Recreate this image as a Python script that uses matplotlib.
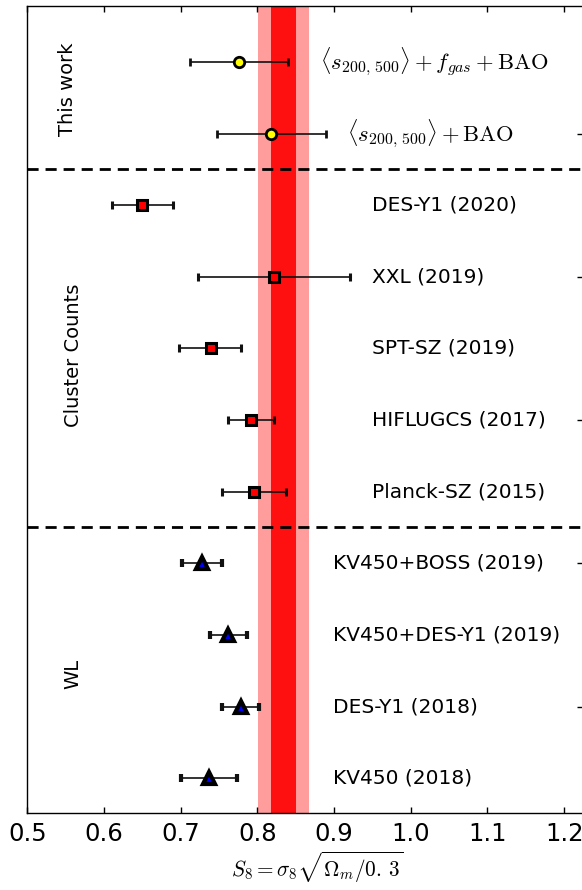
import matplotlib
matplotlib.use('Agg')
import matplotlib.pyplot as plt
import numpy as np

plt.rcParams['mathtext.fontset'] = 'cm'
plt.rcParams['font.family'] = ['DejaVu Sans']

# ---- data ----
this_labels = [r'$\langle s_{200,\,500}\rangle + f_{gas} + \mathrm{BAO}$',
               r'$\langle s_{200,\,500}\rangle + \mathrm{BAO}$']
this_s8 = [0.776, 0.818]
this_lo = [0.064, 0.071]
this_hi = [0.064, 0.071]

cc_labels = ['DES-Y1 (2020)', 'XXL (2019)', 'SPT-SZ (2019)', 'HIFLUGCS (2017)', 'Planck-SZ (2015)']
cc_s8 = [0.650, 0.821, 0.739, 0.792, 0.796]
cc_lo = [0.040, 0.098, 0.041, 0.030, 0.042]
cc_hi = [0.040, 0.100, 0.040, 0.030, 0.041]

wl_labels = ['KV450+BOSS (2019)', 'KV450+DES-Y1 (2019)', 'DES-Y1 (2018)', 'KV450 (2018)']
wl_s8 = [0.728, 0.762, 0.778, 0.737]
wl_lo = [0.026, 0.024, 0.024, 0.037]
wl_hi = [0.026, 0.024, 0.024, 0.036]

planck_s8 = 0.834
planck_1sig = 0.016
planck_2sig = 0.033

group_names = ['This work', 'Cluster Counts', 'WL']

# ---- figure ----
fig = plt.figure(figsize=(5.82, 8.9), dpi=100)
ax = fig.add_axes([27.3 / 582, 76.7 / 890, (583 - 27.3) / 582, (813.3 - 6) / 890])

ax.axvspan(planck_s8 - planck_2sig, planck_s8 + planck_2sig, color='#ff9c9c', lw=0, zorder=1)
ax.axvspan(planck_s8 - planck_1sig, planck_s8 + planck_1sig, color='#ff1010', lw=0, zorder=2)

n_this, n_cc, n_wl = len(this_s8), len(cc_s8), len(wl_s8)
ntot = n_this + n_cc + n_wl
ypos = np.arange(ntot - 1, -1, -1)
y_this = ypos[:n_this]
y_cc = ypos[n_this:n_this + n_cc]
y_wl = ypos[n_this + n_cc:]

eb_kw = dict(ecolor='#111111', elinewidth=1.2, capsize=3.2, capthick=1.2, ls='none', zorder=4)

ax.errorbar(this_s8, y_this, xerr=[this_lo, this_hi], fmt='o', mfc='#ffff00', mec='black',
            ms=7.5, mew=2.0, **eb_kw)
ax.errorbar(cc_s8, y_cc, xerr=[cc_lo, cc_hi], fmt='s', mfc='#ff0000', mec='black',
            ms=7.5, mew=2.2, **eb_kw)
ax.errorbar(wl_s8, y_wl, xerr=[wl_lo, wl_hi], fmt='^', mfc='#0000ff', mec='black',
            ms=8.0, mew=3.0, **eb_kw)

# labels
this_x = [0.882, 0.917]
for lab, y, xx in zip(this_labels, y_this, this_x):
    ax.text(xx, y, lab, fontsize=16.3, va='center', ha='left', zorder=5)
for lab, y in zip(cc_labels, y_cc):
    ax.text(0.949, y, lab, fontsize=14.5, va='center', ha='left', zorder=5)
for lab, y in zip(wl_labels, y_wl):
    ax.text(0.899, y, lab, fontsize=14.5, va='center', ha='left', zorder=5)

# separators
sep1 = (y_this[-1] + y_cc[0]) / 2
sep2 = (y_cc[-1] + y_wl[0]) / 2
for s in (sep1, sep2):
    ax.axhline(s, color='black', lw=2.0, ls=(0, (4, 2.5)), zorder=3)

# group names
ax.text(0.552, 9.62, group_names[0], rotation=90, fontsize=14, ha='center', va='center')
ax.text(0.560, 5.9, group_names[1], rotation=90, fontsize=14, ha='center', va='center')
ax.text(0.560, 1.45, group_names[2], rotation=90, fontsize=14, ha='center', va='center')

ax.set_xlim(0.5, 0.5 + (583 - 27.3) / 767)
ax.set_ylim(-0.49, 10.78)
ax.set_xticks(np.arange(0.5, 1.25, 0.1))
ax.set_xticklabels(['0.5', '0.6', '0.7', '0.8', '0.9', '1.0', '1.1', '1.2'])
ax.set_yticks(ypos[1::2])
ax.tick_params(axis='x', direction='in', top=True, bottom=True, labelsize=17.5, length=4, width=1, pad=6)
ax.tick_params(axis='y', direction='in', left=False, right=True, labelleft=False, length=4, width=1)
ax.set_xlabel(r'$S_8 = \sigma_8\sqrt{\Omega_m/0.\,3}$', fontsize=15.3)
ax.xaxis.set_label_coords(0.521, -0.045)
for sp in ax.spines.values():
    sp.set_linewidth(1.0)

fig.savefig('out.png', dpi=100)
